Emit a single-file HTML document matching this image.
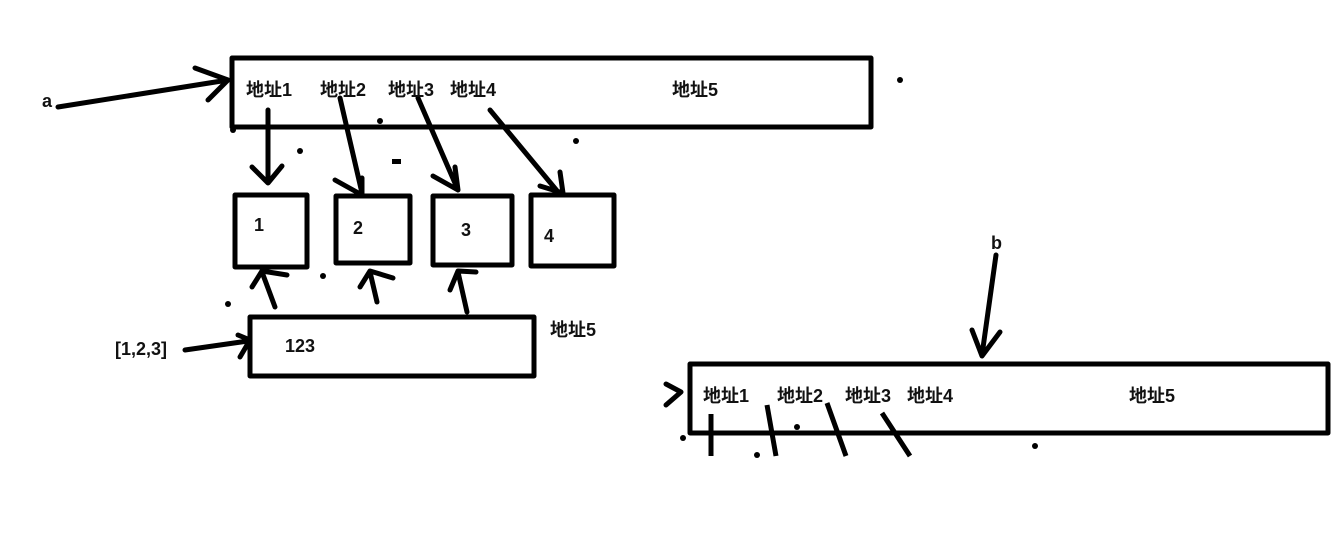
<!DOCTYPE html>
<html><head><meta charset="utf-8"><style>
html,body{margin:0;padding:0;background:#fff;width:1332px;height:545px;overflow:hidden}
text{font-family:"Liberation Sans","Noto Sans CJK SC",sans-serif;font-weight:bold;font-size:18px;fill:#111}
</style></head><body>
<svg width="1332" height="545" viewBox="0 0 1332 545" xmlns="http://www.w3.org/2000/svg">
<g fill="none" stroke="#000" stroke-width="5" stroke-linecap="round" stroke-linejoin="round">
<rect x="232" y="58" width="639" height="69"/>
<rect x="235" y="195" width="72" height="72"/>
<rect x="336" y="196" width="74" height="67"/>
<rect x="433" y="196" width="79" height="69"/>
<rect x="531" y="195" width="83" height="71"/>
<rect x="250" y="317" width="284" height="59"/>
<rect x="690" y="364" width="638" height="69"/>
<path d="M58 107 L228 80 M195 68 L228 80 L208 100"/>
<path d="M268 110 L268 182 M252 167 L268 183 L282 166"/>
<path d="M340 98 L362 193 M335 180 L362 195 L362 178"/>
<path d="M418 98 L458 190 M433 176 L458 190 L455 167"/>
<path d="M490 110 L558 192 M540 186 L563 193 L560 172"/>
<path d="M275 307 L262 272 M252 287 L262 271 L287 275"/>
<path d="M377 302 L370 272 M360 287 L370 271 L393 278"/>
<path d="M467 312 L458 272 M450 290 L458 271 L476 272"/>
<path d="M185 350 L248 341 M238 335 L250 340 L240 357"/>
<path d="M996 255 L982 355 M972 330 L982 356 L1000 332"/>
<path d="M666 384 L681 392 L666 405"/>
</g>
<g fill="none" stroke="#000" stroke-width="5" stroke-linecap="butt">
<path d="M711 414 L711 456 M767 405 L776 456 M827 403 L846 456 M882 413 L910 456"/>
</g>
<g fill="#000">
<circle cx="900" cy="80" r="3"/><circle cx="380" cy="121" r="3"/><circle cx="233" cy="130" r="3"/>
<circle cx="300" cy="151" r="3"/><rect x="392" y="159" width="9" height="5"/><circle cx="576" cy="141" r="3"/>
<circle cx="323" cy="276" r="3"/><circle cx="228" cy="304" r="3"/>
<circle cx="797" cy="427" r="3"/><circle cx="1035" cy="446" r="3"/><circle cx="757" cy="455" r="3"/><circle cx="683" cy="438" r="3"/>
</g>
<text x="42" y="107">a</text>
<text x="246" y="96">地址1</text><text x="320" y="96">地址2</text><text x="388" y="96">地址3</text><text x="450" y="96">地址4</text><text x="672" y="96">地址5</text>
<text x="254" y="231">1</text><text x="353" y="234">2</text><text x="461" y="236">3</text><text x="544" y="242">4</text>
<text x="285" y="352">123</text><text x="550" y="336">地址5</text><text x="115" y="355">[1,2,3]</text>
<text x="991" y="249">b</text>
<text x="703" y="402">地址1</text><text x="777" y="402">地址2</text><text x="845" y="402">地址3</text><text x="907" y="402">地址4</text><text x="1129" y="402">地址5</text>
</svg>
</body></html>
